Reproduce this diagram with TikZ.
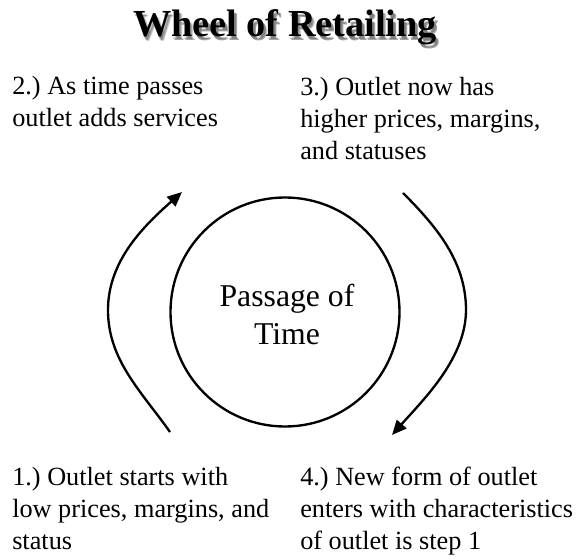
\documentclass[tikz,border=0pt]{standalone}
\usepackage{fontspec}
\setmainfont{Liberation Serif}
\usetikzlibrary{arrows.meta}
\begin{document}
\frenchspacing
\begin{tikzpicture}[x=0.75pt,y=-0.75pt,
  lbl/.style={anchor=base west, align=left, inner sep=0pt, font=\fontsize{19.7}{24}\selectfont},
  ttl/.style={anchor=base, inner sep=0pt, font=\fontsize{28.7}{34}\selectfont\bfseries},
  shd/.style={ttl, text=black, opacity=0.2},
  cyc/.style={line width=1.75pt, -{Triangle[length=11pt,width=9.5pt]}},
]
\useasboundingbox (0,0) rectangle (579,559);
% title with soft shadow
\foreach \dx/\dy [count=\i] in {1.5/2.5,3/4,2.5/3.5}
  \node[shd] (shadow\i) at (285+\dx,37+\dy) {Wheel of Retailing};
\node[ttl] (title) at (285,37) {Wheel of Retailing};
% central circle
\node[circle, draw, line width=1.75pt, minimum size=171.75pt, inner sep=0pt] (hub) at (285,312) {};
\node[anchor=base, align=center, inner sep=0pt, font=\fontsize{23.8}{28.5}\selectfont] (hubtext) at (287,345) {Passage of\\Time};
% labels (anchor = baseline of last line)
\node[lbl] (step2) at (12,127) {2.) As time passes\\outlet adds services};
\node[lbl] (step3) at (300,160) {3.) Outlet now has\\higher prices, margins,\\and statuses};
\node[lbl] (step1) at (12,550) {1.) Outlet starts with\\low prices, margins, and\\status};
\node[lbl] (step4) at (300,550) {4.) New form of outlet\\enters with characteristics\\of outlet is step 1};
% cycle arrows
\coordinate (s1) at (170,432);
\coordinate (m1) at (108,310);
\coordinate (e1) at (182,192);
\coordinate (s2) at (403,193);
\coordinate (m2) at (466,310);
\coordinate (e2) at (392,435);
\draw[cyc] (s1) .. controls (141,391) and (108,360) .. (m1)
               .. controls (108,260) and (145,225) .. (e1);
\draw[cyc] (s2) .. controls (437,227) and (466,262) .. (m2)
               .. controls (466,358) and (424,399) .. (e2);
\end{tikzpicture}
\end{document}
